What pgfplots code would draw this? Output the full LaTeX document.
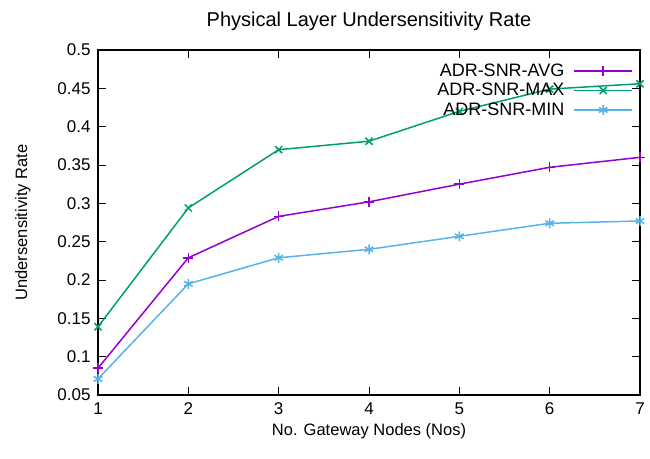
\documentclass[border=0pt]{standalone}
\usepackage{fontspec}
\setmainfont{Liberation Sans}
\usepackage{pgfplots}
\pgfplotsset{compat=1.18}
\definecolor{cavg}{HTML}{9400D3}
\definecolor{cmax}{HTML}{009E73}
\definecolor{cmin}{HTML}{56B4E9}
\begin{document}
\begin{tikzpicture}
\begin{axis}[
  name=ax,
  scale only axis,
  width=542bp, height=345bp,
  xmin=1, xmax=7, ymin=0.05, ymax=0.5,
  xtick={1,...,7},
  ytick={0.05,0.1,0.15,0.2,0.25,0.3,0.35,0.4,0.45,0.5},
  yticklabels={0.05,0.1,0.15,0.2,0.25,0.3,0.35,0.4,0.45,0.5},
  tick align=inside,
  major tick length=8bp,
  axis line style={line width=1.3bp},
  every tick/.style={black, line width=1bp},
  font=\fontsize{16.5bp}{19bp}\selectfont,
  ticklabel style={font=\fontsize{17bp}{19bp}\selectfont},
  /pgf/number format/assume math mode=true,
  xticklabel style={yshift=-4bp},
  yticklabel style={xshift=-4bp},
  title={Physical Layer Undersensitivity Rate},
  title style={font=\fontsize{20bp}{23bp}\selectfont, yshift=10bp},
  xlabel={No. Gateway Nodes (Nos)},
  ylabel={Undersensitivity Rate},
  xlabel style={yshift=-2bp},
  ylabel shift=20bp,
  legend plot pos=right,
  legend cell align=right,
  legend style={draw=none, fill=none, font=\fontsize{18bp}{20bp}\selectfont,
    row sep=1.5bp, column sep=7bp, at={(0.993,0.972)}, anchor=north east},
  legend image code/.code={
    \draw[line width=1.6bp] (0bp,0bp) -- (58bp,0bp);
    \draw[line width=1.6bp] plot[only marks] coordinates {(29bp,0bp)};
  },
  every axis plot/.append style={line width=1.5bp, mark size=5bp},
]
\addplot[cavg, mark=+] coordinates {(1,0.085)(2,0.229)(3,0.283)(4,0.302)(5,0.325)(6,0.347)(7,0.360)};
\addlegendentry{ADR-SNR-AVG}
\addplot[cmax, mark=x] coordinates {(1,0.139)(2,0.294)(3,0.370)(4,0.381)(5,0.420)(6,0.449)(7,0.456)};
\addlegendentry{ADR-SNR-MAX}
\addplot[cmin, mark=asterisk] coordinates {(1,0.071)(2,0.195)(3,0.229)(4,0.240)(5,0.257)(6,0.274)(7,0.277)};
\addlegendentry{ADR-SNR-MIN}
\end{axis}
\path ([shift={(-98bp,-63bp)}]ax.south west) rectangle ([shift={(10bp,50bp)}]ax.north east);
\end{tikzpicture}
\end{document}
